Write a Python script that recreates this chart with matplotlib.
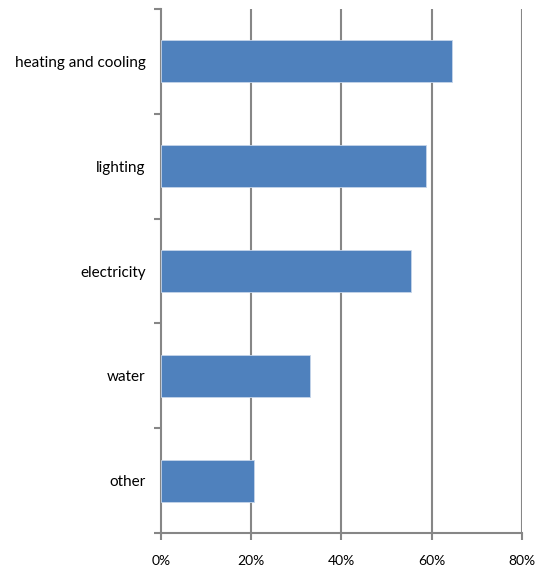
import numpy as np
import matplotlib.pyplot as plt
from matplotlib.ticker import FixedLocator, NullFormatter

plt.rcParams['font.family'] = ['Lato', 'DejaVu Sans']

categories = ["heating and cooling", "lighting", "electricity", "water", "other"]
values = [64.6, 58.7, 55.4, 33.1, 20.6]
xticks = [0, 20, 40, 60, 80]
xtick_labels = ["0%", "20%", "40%", "60%", "80%"]

grid_col = "#868686"
bar_col = "#4F81BD"

fig = plt.figure(figsize=(5.35, 5.69), dpi=100)
ax = fig.add_axes([161 / 535, 36 / 569, (521.7 - 161) / 535, (533 - 9) / 569])

y = np.arange(len(categories))[::-1]
ax.barh(y, values, height=0.4, color=bar_col, edgecolor="#c6d5ea", linewidth=0.6, zorder=3)

ax.set_xlim(0, 80)
ax.set_ylim(-0.5, len(categories) - 0.5)

ax.set_xticks(xticks)
ax.set_xticklabels(xtick_labels, fontsize=10)
ax.set_yticks(y)
ax.set_yticklabels(categories, fontsize=11)
ax.tick_params(axis="y", length=0, pad=11)
ax.tick_params(axis="x", length=5, width=1.5, color=grid_col, pad=11)

# category boundary ticks on the y axis
ax.yaxis.set_minor_locator(FixedLocator(np.arange(-0.5, len(categories), 1.0)))
ax.yaxis.set_minor_formatter(NullFormatter())
ax.tick_params(axis="y", which="minor", length=5, width=1.5, color=grid_col)

for xv in xticks[1:]:
    ax.axvline(xv, color=grid_col, linewidth=1.5, zorder=1)

for side in ["top", "right"]:
    ax.spines[side].set_visible(False)
for side in ["left", "bottom"]:
    ax.spines[side].set_color(grid_col)
    ax.spines[side].set_linewidth(1.5)

fig.savefig("out.png", dpi=100)
